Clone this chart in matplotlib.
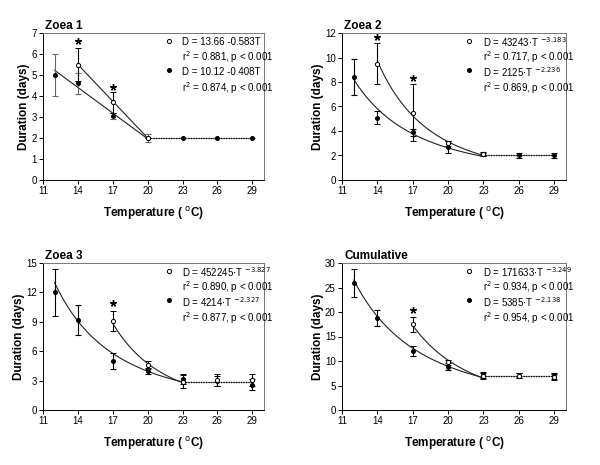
import numpy as np
import matplotlib
matplotlib.use('Agg')
import matplotlib.pyplot as plt

plt.rcParams['font.family'] = ['Liberation Sans Narrow', 'Liberation Sans', 'DejaVu Sans']

temps = [12, 14, 17, 20, 23, 26, 29]

# Zoea 1 (linear fits)
z1_fill = [5.0, 4.6, 3.05, 2.0, 2.0, 2.0, 2.0]
z1_fill_err = [1.0, 0.5, 0.15, 0.2, 0.0, 0.0, 0.0]
z1_open_t = [14, 17, 20]
z1_open = [5.5, 3.7, 2.0]
z1_open_err = [0.8, 0.5, 0.0]

# Zoea 2
z2_fill = [8.4, 5.1, 3.9, 2.7, 2.1, 2.0, 2.0]
z2_fill_err = [1.5, 0.5, 0.3, 0.5, 0.15, 0.2, 0.2]
z2_open_t = [14, 17, 20, 23]
z2_open = [9.5, 5.5, 3.0, 2.1]
z2_open_err = [1.7, 2.3, 0.2, 0.1]

# Zoea 3
z3_fill = [12.0, 9.2, 5.0, 4.0, 3.2, 3.0, 2.6]
z3_fill_err = [2.4, 1.5, 0.8, 0.3, 0.5, 0.5, 0.6]
z3_open_t = [17, 20, 23, 26, 29]
z3_open = [9.1, 4.6, 2.9, 3.1, 3.1]
z3_open_err = [1.05, 0.4, 0.7, 0.6, 0.6]

# Cumulative
cu_fill = [25.9, 18.8, 12.0, 8.8, 7.2, 7.0, 7.0]
cu_fill_err = [2.8, 1.6, 1.0, 0.7, 0.6, 0.5, 0.6]
cu_open_t = [17, 20, 23, 26, 29]
cu_open = [17.5, 9.7, 7.0, 7.0, 6.8]
cu_open_err = [1.5, 0.5, 0.6, 0.5, 0.6]

panels = [
    dict(title='Zoea 1', ymax=7, ystep=1, fill=z1_fill, fill_err=z1_fill_err,
         open_t=z1_open_t, open=z1_open, open_err=z1_open_err,
         kind='lin', open_fit=(13.66, -0.583), fill_fit=(10.12, -0.408),
         open_range=(14, 20), fill_range=(12, 20), plateau=(20, 2.0),
         stars=[(14, 6.6), (17, 4.45)],
         open_txt='D = 13.66 -0.583T', open_r2='0.881',
         fill_txt='D = 10.12 -0.408T', fill_r2='0.874'),
    dict(title='Zoea 2', ymax=12, ystep=2, fill=z2_fill, fill_err=z2_fill_err,
         open_t=z2_open_t, open=z2_open, open_err=z2_open_err,
         kind='pow', open_fit=(43243, -3.183), fill_fit=(2125, -2.236),
         open_range=(14, 23), fill_range=(12, 23), plateau=(23, 2.0),
         stars=[(14, 11.7), (17, 8.3)],
         open_txt='43243', open_exp='-3.183', open_r2='0.717',
         fill_txt='2125', fill_exp='-2.236', fill_r2='0.869'),
    dict(title='Zoea 3', ymax=15, ystep=3, fill=z3_fill, fill_err=z3_fill_err,
         open_t=z3_open_t, open=z3_open, open_err=z3_open_err,
         kind='pow', open_fit=(452245, -3.827), fill_fit=(4214, -2.327),
         open_range=(17, 23), fill_range=(12, 23), plateau=(23, 2.85),
         stars=[(17, 10.9)],
         open_txt='452245', open_exp='-3.827', open_r2='0.890',
         fill_txt='4214', fill_exp='-2.327', fill_r2='0.877'),
    dict(title='Cumulative', ymax=30, ystep=5, fill=cu_fill, fill_err=cu_fill_err,
         open_t=cu_open_t, open=cu_open, open_err=cu_open_err,
         kind='pow', open_fit=(171633, -3.249), fill_fit=(5385, -2.138),
         open_range=(17, 23), fill_range=(12, 23), plateau=(23, 6.9),
         stars=[(17, 20.4)],
         open_txt='171633', open_exp='-3.249', open_r2='0.934',
         fill_txt='5385', fill_exp='-2.138', fill_r2='0.954'),
]

boxes = [
    [43 / 600, 1 - 180 / 465, 221 / 600, 147 / 465],
    [342 / 600, 1 - 180 / 465, 224 / 600, 147 / 465],
    [43 / 600, 1 - 410 / 465, 221 / 600, 147 / 465],
    [342 / 600, 1 - 410 / 465, 224 / 600, 147 / 465],
]


def fit_curve(kind, coef, t):
    a, b = coef
    if kind == 'lin':
        return a + b * t
    return a * t ** b


fig = plt.figure(figsize=(6.0, 4.65), dpi=100)

for p, box in zip(panels, boxes):
    ax = fig.add_axes(box)
    # fitted curves
    for coef, (t0, t1) in [(p['fill_fit'], p['fill_range']), (p['open_fit'], p['open_range'])]:
        t = np.linspace(t0, t1, 100)
        ax.plot(t, fit_curve(p['kind'], coef, t), color='#222222', lw=0.8, zorder=2)
    # plateau
    x0, level = p['plateau']
    ax.plot([x0, 29], [level, level], color='#888888', lw=0.8, zorder=1)
    ax.plot([x0, 29], [level, level], color='black', lw=0.9, ls=(0, (1, 1)), zorder=2)
    # data
    ecol = '#666666' if p['title'] == 'Zoea 1' else 'black'
    ax.errorbar(temps, p['fill'], yerr=p['fill_err'], fmt='o', ms=2.6, color='black',
                ecolor=ecol, elinewidth=0.8, capsize=2.5, capthick=0.8, zorder=3)
    ax.errorbar(p['open_t'], p['open'], yerr=p['open_err'], fmt='o', ms=3.0, mfc='white',
                mec='black', mew=0.7, color='black', elinewidth=0.8, capsize=2.5,
                capthick=0.8, zorder=4)
    # significance asterisks
    sx, sy = zip(*p['stars'])
    ax.plot(sx, sy, ls='none', marker=(5, 2, 0), ms=4.8, mew=1.0, color='black',
            clip_on=False, zorder=5)

    ax.set_xlim(11, 30)
    ax.set_ylim(0, p['ymax'])
    ax.set_xticks([11, 14, 17, 20, 23, 26, 29])
    ax.set_yticks(np.arange(0, p['ymax'] + 0.1, p['ystep']))
    ax.tick_params(labelsize=7, length=3, width=0.7, pad=1.5)
    for s in ax.spines.values():
        s.set_linewidth(0.7)
    ax.spines['top'].set_color('#777777')
    ax.spines['right'].set_color('#777777')
    ax.set_xlabel('Temperature ( $^{\\rm o}$C)', fontsize=8.5, fontweight='bold', labelpad=6)
    ax.set_ylabel('Duration (days)', fontsize=8.5, fontweight='bold', labelpad=1)
    ax.text(0.01, 1.005, p['title'], transform=ax.transAxes, fontsize=8.5,
            fontweight='bold', ha='left', va='bottom')

    # legend text
    ax.plot([0.568], [0.945], 'o', ms=3.0, mfc='white', mec='black', mew=0.7,
            transform=ax.transAxes, clip_on=False)
    ax.plot([0.568], [0.745], 'o', ms=2.6, color='black', transform=ax.transAxes,
            clip_on=False)
    tx = 0.63
    if p['kind'] == 'lin':
        l1 = p['open_txt']
        l3 = p['fill_txt']
    else:
        l1 = 'D = %s$\\cdot$T $^{%s}$' % (p['open_txt'], p['open_exp'])
        l3 = 'D = %s$\\cdot$T $^{%s}$' % (p['fill_txt'], p['fill_exp'])
    ax.text(tx, 0.94, l1, transform=ax.transAxes, fontsize=7, va='center')
    ax.text(tx, 0.835, 'r$^2$ = %s, p < 0.001' % p['open_r2'], transform=ax.transAxes,
            fontsize=7, va='center')
    ax.text(tx, 0.735, l3, transform=ax.transAxes, fontsize=7, va='center')
    ax.text(tx, 0.625, 'r$^2$ = %s, p < 0.001' % p['fill_r2'], transform=ax.transAxes,
            fontsize=7, va='center')

fig.savefig('out.png', dpi=100)
